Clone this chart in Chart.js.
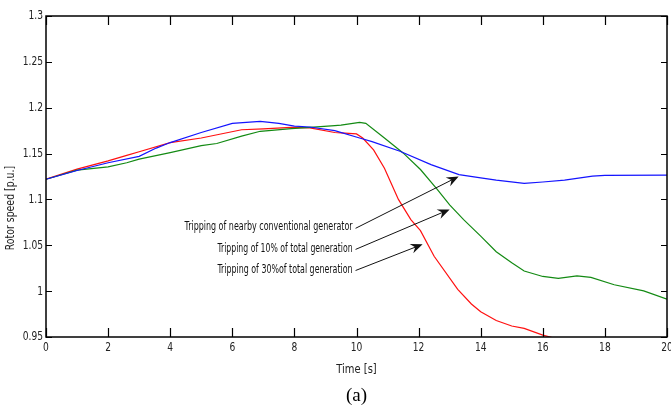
<!DOCTYPE html>
<html>
<head>
<meta charset="utf-8">
<script src="https://cdn.jsdelivr.net/npm/chart.js@4.4.1/dist/chart.umd.min.js"></script>
<style>
    html, body { margin: 0; padding: 0; background: #fff; }
    #wrap { position: relative; width: 671px; height: 409px; }
</style>
</head>
<body>
<div id="wrap"><canvas id="speedChart" width="671" height="409"></canvas></div>
<script>
// rotor speed after tripping events
const blueTime  = [0, 1, 2, 3, 3.55, 4, 5, 6, 6.9, 7.5, 8, 8.5, 9.3, 10.1, 10.5, 11.4, 12.4, 13.3, 14, 14.5, 15.4, 16, 16.7, 17.6, 18, 20];
const blueSpeed = [1.122, 1.1315, 1.14, 1.147, 1.156, 1.162, 1.173, 1.183, 1.185, 1.183, 1.180, 1.179, 1.175, 1.167, 1.163, 1.1525, 1.138, 1.127, 1.1236, 1.121, 1.1174, 1.119, 1.121, 1.1254, 1.1262, 1.1264];

const greenTime  = [0, 1, 2, 2.6, 3, 4, 5, 5.5, 6.3, 6.9, 7.9, 8.5, 9.3, 9.5, 10.1, 10.3, 10.9, 11.5, 12.06, 12.6, 13, 13.45, 14, 14.5, 15, 15.4, 16, 16.5, 17.1, 17.55, 18.3, 19.25, 20];
const greenSpeed = [1.122, 1.132, 1.1355, 1.140, 1.144, 1.151, 1.1587, 1.161, 1.169, 1.1743, 1.1772, 1.1786, 1.1804, 1.181, 1.184, 1.183, 1.167, 1.1507, 1.1326, 1.111, 1.094, 1.078, 1.060, 1.043, 1.031, 1.022, 1.016, 1.014, 1.0166, 1.015, 1.007, 1.0003, 0.9913];

const redTime  = [0, 1, 2, 2.6, 3, 4, 5, 6.3, 7, 7.9, 8.5, 9.3, 9.5, 10, 10.2, 10.55, 10.9, 11.35, 11.75, 12.06, 12.5, 13.26, 13.7, 14, 14.5, 15, 15.4, 16, 16.3];
const redSpeed = [1.122, 1.133, 1.142, 1.148, 1.152, 1.162, 1.167, 1.176, 1.177, 1.1786, 1.178, 1.173, 1.1725, 1.1714, 1.167, 1.154, 1.134, 1.100, 1.078, 1.066, 1.038, 1.002, 0.986, 0.9775, 0.968, 0.962, 0.9594, 0.952, 0.9495];

const xTicks = [0, 2, 4, 6, 8, 10, 12, 14, 16, 18, 20];
const xTickLabels = ['0', '2', '4', '6', '8', '10', '12', '14', '16', '18', '20'];
const yTicks = [0.95, 1, 1.05, 1.1, 1.15, 1.2, 1.25, 1.3];
const yTickLabels = ['0.95', '1', '1.05', '1.1', '1.15', '1.2', '1.25', '1.3'];

const noteLabels = ['Tripping of nearby conventional generator', 'Tripping of 10% of total generation', 'Tripping of 30%of total generation'];
// arrow tail / head in data units [t, speed]
const noteTails = [[9.97, 1.0685], [9.97, 1.0455], [9.97, 1.0225]];
const noteHeads = [[13.29, 1.125], [13.0, 1.0891], [12.13, 1.0511]];

const NARROW = "'Liberation Sans Narrow', 'DejaVu Sans Condensed', 'Arial Narrow', sans-serif";
const TEXT_COLOR = '#222';
const SQUEEZE = 0.78; // fonts here are wider than the narrow face of the original

const toPoints = (ts, vs) => ts.map((t, i) => ({ x: t, y: vs[i] }));

// draws text squeezed horizontally
function narrowText(ctx, txt, x, y, factor) {
    const w = ctx.measureText(txt).width;
    ctx.fillText(txt, x, y, w * (factor || SQUEEZE));
}

// frame with inward ticks, tick labels, titles, annotations
const framePlugin = {
    id: 'frame',
    afterDatasetsDraw(chart) {
        const { ctx, chartArea: a, scales: { x, y } } = chart;
        ctx.save();
        ctx.strokeStyle = '#000';
        ctx.lineWidth = 1.5;
        ctx.strokeRect(a.left, a.top, a.right - a.left, a.bottom - a.top);
        ctx.lineWidth = 1.2;
        ctx.beginPath();
        xTicks.forEach(v => {
            const px = Math.round(x.getPixelForValue(v)) + 0.5;
            ctx.moveTo(px, a.bottom); ctx.lineTo(px, a.bottom - 9);
            ctx.moveTo(px, a.top); ctx.lineTo(px, a.top + 9);
        });
        yTicks.forEach(v => {
            const py = Math.round(y.getPixelForValue(v)) + 0.5;
            ctx.moveTo(a.left, py); ctx.lineTo(a.left + 6, py);
            ctx.moveTo(a.right, py); ctx.lineTo(a.right - 6, py);
        });
        ctx.stroke();

        // tick labels
        ctx.fillStyle = TEXT_COLOR;
        ctx.font = `13px ${NARROW}`;
        ctx.textBaseline = 'middle';
        ctx.textAlign = 'center';
        xTicks.forEach((v, i) => narrowText(ctx, xTickLabels[i], x.getPixelForValue(v), a.bottom + 11));
        ctx.textAlign = 'right';
        yTicks.forEach((v, i) => narrowText(ctx, yTickLabels[i], a.left - 3, y.getPixelForValue(v)));

        // axis titles
        ctx.textAlign = 'center';
        narrowText(ctx, 'Time [s]', (a.left + a.right) / 2, 370, 0.85);
        ctx.save();
        ctx.translate(11, 208); ctx.rotate(-Math.PI / 2);
        narrowText(ctx, 'Rotor speed [p.u.]', 0, 0, 0.8);
        ctx.restore();

        // arrows + labels
        ctx.lineWidth = 1;
        ctx.fillStyle = '#111';
        ctx.strokeStyle = '#111';
        noteLabels.forEach((txt, i) => {
            const x0 = x.getPixelForValue(noteTails[i][0]), y0 = y.getPixelForValue(noteTails[i][1]);
            const x1 = x.getPixelForValue(noteHeads[i][0]), y1 = y.getPixelForValue(noteHeads[i][1]);
            const ang = Math.atan2(y1 - y0, x1 - x0);
            ctx.beginPath(); ctx.moveTo(x0, y0); ctx.lineTo(x1 - 6 * Math.cos(ang), y1 - 6 * Math.sin(ang)); ctx.stroke();
            ctx.save();
            ctx.translate(x1, y1); ctx.rotate(ang);
            ctx.beginPath();
            ctx.moveTo(0, 0); ctx.lineTo(-12, -5); ctx.lineTo(-8, 0); ctx.lineTo(-12, 5);
            ctx.closePath(); ctx.fill();
            ctx.restore();

            ctx.font = `12px ${NARROW}`;
            ctx.textAlign = 'right';
            ctx.textBaseline = 'middle';
            const w = [168, 135, 135][i];
            ctx.fillText(txt, x0 - 3, y0 - 1, w);
        });

        ctx.fillStyle = '#000';
        ctx.textAlign = 'center';
        ctx.font = "19px 'Liberation Serif', 'DejaVu Serif', serif";
        ctx.fillText('(a)', (a.left + a.right) / 2, 396);
        ctx.restore();
    }
};

const line = (pts, color) => ({
    data: pts, borderColor: color, borderWidth: 1.2, pointRadius: 0, tension: 0, fill: false
});

new Chart(document.getElementById('speedChart'), {
    type: 'line',
    data: {
        datasets: [
            line(toPoints(blueTime, blueSpeed), '#1414ff'),
            line(toPoints(greenTime, greenSpeed), '#138a13'),
            line(toPoints(redTime, redSpeed), '#ff1010')
        ]
    },
    options: {
        responsive: false,
        animation: false,
        events: [],
        layout: { padding: { top: 16, right: 4, bottom: 28, left: 0 } },
        plugins: { legend: { display: false }, tooltip: { enabled: false }, title: { display: false } },
        scales: {
            x: {
                type: 'linear', min: 0, max: 20,
                afterBuildTicks: s => { s.ticks = xTicks.map(v => ({ value: v })); },
                afterFit: s => { s.height = 44; },
                grid: { display: false },
                border: { display: false },
                ticks: { display: false }
            },
            y: {
                min: 0.95, max: 1.3,
                afterBuildTicks: s => { s.ticks = yTicks.map(v => ({ value: v })); },
                afterFit: s => { s.width = 46; },
                grid: { display: false },
                border: { display: false },
                ticks: { display: false }
            }
        }
    },
    plugins: [framePlugin]
});
</script>
</body>
</html>
